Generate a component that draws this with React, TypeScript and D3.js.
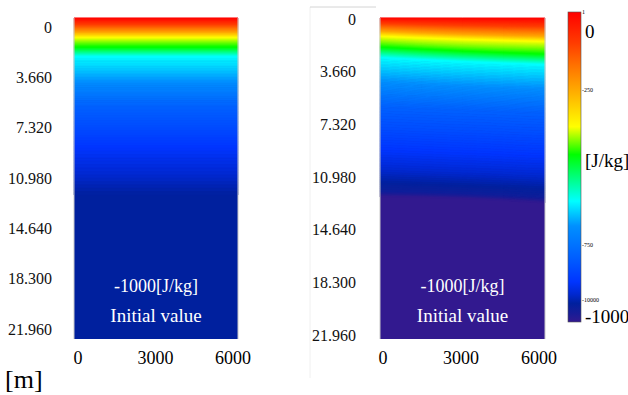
import React, { useEffect, useRef } from "react";
import * as d3 from "d3";

// colour scale of the legend (J/kg)
const legendValues = [0, -100, -170, -250, -370, -460, -610, -690, -790, -870, -910, -940, -975, -1000];
const legendColors = [
  "#ff0000", "#ff3c00", "#ff7000", "#ffa800", "#ffff00", "#00ff00", "#00ffff",
  "#0090ff", "#0060ff", "#0035ff", "#0028d0", "#00209e", "#1a1c96", "#32198f",
];
const legendSmallLabels = [
  { v: 0, text: "1" },
  { v: -250, text: "-250" },
  { v: -750, text: "-750" },
  { v: -930, text: "-10000" },
];

// axes
const depthTicks = [0, 3.66, 7.32, 10.98, 14.64, 18.3, 21.96];
const depthTickLabels = ["0", "3.660", "7.320", "10.980", "14.640", "18.300", "21.960"];
const distTicks = [0, 3000, 6000];

// left panel: potential profile, same at every distance
const leftValues = [0, -100, -250, -370, -420, -465, -610, -650, -690, -790, -830, -870, -910, -940];
const leftDist = [0, 6000];
const leftDepths = [0, 0.51, 1.09, 1.46, 1.82, 2.19, 2.84, 3.79, 4.66, 6.56, 8.02, 9.48, 11.44, 12.9];

// right panel: profiles at 0, 3000, 6000
const rightValues = [0, -100, -250, -370, -420, -465, -610, -650, -690, -790, -830, -870, -910, -960, -1000];
const rightDist = [0, 3000, 6000];
const rightDepthsAt0 = [0, 0.44, 1.02, 1.38, 1.82, 2.19, 2.92, 3.79, 4.66, 6.56, 8.16, 9.62, 11.08, 12.68, 13.05];
const rightDepthsAt3000 = [0, 0.58, 1.24, 1.6, 2.11, 2.48, 3.21, 4.08, 4.96, 6.78, 8.38, 9.84, 11.3, 12.83, 13.19];
const rightDepthsAt6000 = [0, 0.66, 1.38, 1.75, 2.26, 2.7, 3.43, 4.3, 5.17, 7.0, 8.6, 10.06, 11.52, 13.12, 13.48];

const FONT = "Liberation Serif, serif";

const App = () => {
  const svgRef = useRef<SVGSVGElement>(null);

  useEffect(() => {
    const svg = d3.select(svgRef.current);
    svg.selectAll("*").remove();

    const color = d3
      .scaleLinear<string>()
      .domain(legendValues)
      .range(legendColors)
      .interpolate(d3.interpolateRgb)
      .clamp(true);

    const depthY = d3.scaleLinear().domain([0, 23.4]).range([18, 339]);

    // faint border of the right-hand image
    svg.append("line").attr("x1", 310).attr("x2", 310).attr("y1", 7).attr("y2", 378).attr("stroke", "#f0f0f0");
    svg.append("line").attr("x1", 310).attr("x2", 376).attr("y1", 7).attr("y2", 7).attr("stroke", "#d4d4d4");

    const drawPanel = (
      x0: number,
      x1: number,
      values: number[],
      cols: number[],
      depthCols: number[][],
      labelX: number,
      labelRange: [number, number],
      tickRange: [number, number]
    ) => {
      const xScale = d3.scaleLinear().domain([0, 6000]).range([x0, x1]);
      const g = svg.append("g");
      const deepest = values[values.length - 1];

      g.append("rect")
        .attr("x", x0)
        .attr("y", depthY(0))
        .attr("width", x1 - x0)
        .attr("height", depthY(23.4) - depthY(0))
        .attr("fill", color(deepest));

      const depthAt = depthCols.map((ds) => d3.scaleLinear().domain(values).range(ds).clamp(true));
      const steps = d3.range(0, deepest - 0.001, -5);
      if (steps[steps.length - 1] > deepest) steps.push(deepest);

      const area = d3
        .area<{ x: number; top: number; bot: number }>()
        .x((d) => xScale(d.x))
        .y0((d) => depthY(d.top))
        .y1((d) => depthY(d.bot))
        .curve(cols.length > 2 ? d3.curveMonotoneX : d3.curveLinear);

      for (let i = 0; i < steps.length - 1; i++) {
        const va = steps[i];
        const vb = steps[i + 1];
        const pts = cols.map((c, ci) => ({ x: c, top: depthAt[ci](va), bot: depthAt[ci](vb) }));
        const c = color((va + vb) / 2);
        g.append("path").attr("d", area(pts)).attr("fill", c).attr("stroke", c).attr("stroke-width", 0.8);
      }

      // thin frame on the sides
      g.append("line").attr("x1", x0).attr("x2", x0).attr("y1", 18).attr("y2", 339).attr("stroke", "#c8c8c8");
      g.append("line").attr("x1", x1).attr("x2", x1).attr("y1", 18).attr("y2", 339).attr("stroke", "#c8c8c8");

      const labelY = d3.scaleLinear().domain([0, 21.96]).range(labelRange);
      svg
        .append("g")
        .selectAll("text")
        .data(depthTicks)
        .enter()
        .append("text")
        .attr("x", labelX)
        .attr("y", (d) => labelY(d))
        .attr("dy", "0.35em")
        .attr("text-anchor", "end")
        .attr("font-family", FONT)
        .attr("font-size", 16)
        .attr("fill", "#111")
        .text((_, i) => depthTickLabels[i]);

      const tickX = d3.scaleLinear().domain([0, 6000]).range(tickRange);
      svg
        .append("g")
        .selectAll("text")
        .data(distTicks)
        .enter()
        .append("text")
        .attr("x", (d) => tickX(d))
        .attr("y", 364)
        .attr("text-anchor", "middle")
        .attr("font-family", FONT)
        .attr("font-size", 18)
        .text((d) => String(d));

      const cx = (x0 + x1) / 2;
      g.append("text")
        .attr("x", cx)
        .attr("y", 292)
        .attr("text-anchor", "middle")
        .attr("fill", "#ffffff")
        .attr("font-family", FONT)
        .attr("font-size", 18)
        .text("-1000[J/kg]");
      g.append("text")
        .attr("x", cx)
        .attr("y", 322)
        .attr("text-anchor", "middle")
        .attr("fill", "#ffffff")
        .attr("font-family", FONT)
        .attr("font-size", 19)
        .text("Initial value");
    };

    drawPanel(74, 238, leftValues, leftDist, [leftDepths, leftDepths], 52, [27, 329], [78, 233]);
    drawPanel(
      380,
      545,
      rightValues,
      rightDist,
      [rightDepthsAt0, rightDepthsAt3000, rightDepthsAt6000],
      356,
      [19, 335],
      [383, 539]
    );

    // colour bar
    const barTop = 12;
    const barBottom = 322;
    const barY = d3.scaleLinear().domain([0, -1000]).range([barTop, barBottom]);
    const grad = svg
      .append("defs")
      .append("linearGradient")
      .attr("id", "bar-grad")
      .attr("x1", 0)
      .attr("x2", 0)
      .attr("y1", 0)
      .attr("y2", 1);
    grad
      .selectAll("stop")
      .data(legendValues)
      .enter()
      .append("stop")
      .attr("offset", (d) => d / -1000)
      .attr("stop-color", (_, i) => legendColors[i]);

    svg
      .append("rect")
      .attr("x", 568)
      .attr("y", barTop)
      .attr("width", 13)
      .attr("height", barBottom - barTop)
      .attr("fill", "url(#bar-grad)")
      .attr("stroke", "#555")
      .attr("stroke-width", 0.6);

    svg
      .append("g")
      .selectAll("text")
      .data(legendSmallLabels)
      .enter()
      .append("text")
      .attr("x", 582)
      .attr("y", (d) => barY(d.v))
      .attr("dy", "0.35em")
      .attr("font-family", FONT)
      .attr("font-size", 6)
      .text((d) => d.text);

    const bigLabel = (y: number, t: string) =>
      svg
        .append("text")
        .attr("x", 585)
        .attr("y", y)
        .attr("dy", "0.35em")
        .attr("font-family", FONT)
        .attr("font-size", 19)
        .text(t);
    bigLabel(31, "0");
    bigLabel(160, "[J/kg]");
    bigLabel(316, "-1000");

    svg
      .append("text")
      .attr("x", 5)
      .attr("y", 388)
      .attr("font-family", FONT)
      .attr("font-size", 26)
      .text("[m]");
  }, []);

  return (
    <svg
      ref={svgRef}
      width={628}
      height={395}
      style={{ position: "absolute", left: 0, top: 0, background: "#ffffff" }}
    ></svg>
  );
};

export default App;
